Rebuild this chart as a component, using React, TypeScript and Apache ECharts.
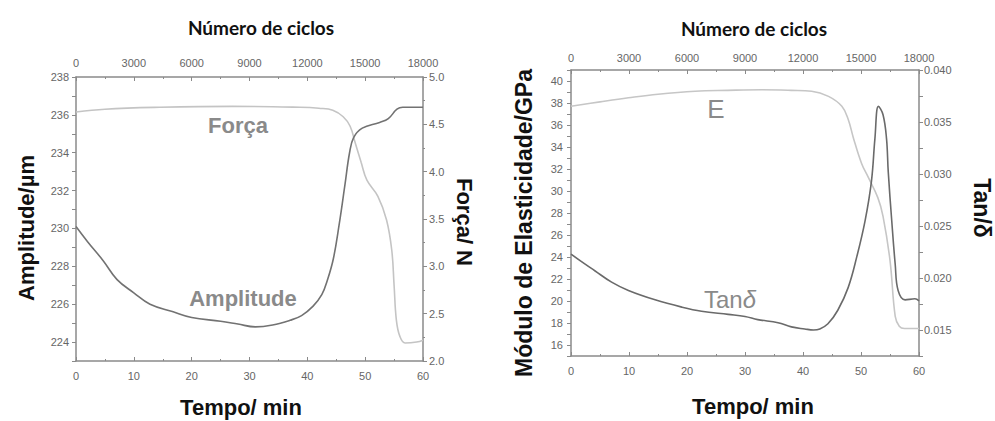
import React, { useEffect, useRef } from "react";
import * as echarts from "echarts";

// Tempo (min) and Número de ciclos axes
const timeMin = 0;
const timeMax = 60;
const cyclesMax = 18000;

// Left panel: Amplitude (µm) and Força (N) vs Tempo (min)
const ampT = [0, 2, 4.7, 7.1, 10, 12.8, 16.8, 20, 25, 28, 31, 34, 37, 39, 41, 42.5, 43.5, 44.5, 45.5, 46.5, 47.3, 48, 49.5, 52.5, 54, 55.5, 56.5, 60];
const ampV = [230.1, 229.3, 228.3, 227.3, 226.6, 226.0, 225.6, 225.3, 225.1, 224.95, 224.8, 224.9, 225.15, 225.4, 225.9, 226.5, 227.3, 228.4, 230.2, 232.3, 234.0, 234.8, 235.3, 235.6, 235.8, 236.3, 236.4, 236.4];

const forT = [0, 5, 14.5, 27, 38.7, 42, 44.4, 46.2, 47.4, 48.3, 49.3, 50.3, 52.2, 53.7, 54.6, 55.0, 55.4, 56, 56.9, 58.9, 60];
const forV = [4.63, 4.66, 4.68, 4.69, 4.68, 4.67, 4.65, 4.58, 4.48, 4.3, 4.1, 3.91, 3.74, 3.49, 3.17, 2.8, 2.43, 2.26, 2.19, 2.2, 2.22];

// Right panel: Módulo de Elasticidade (GPa) and Tanδ vs Tempo (min)
const eT = [0, 5, 9.9, 15, 21.4, 27, 32.9, 38, 41.5, 44.4, 46.7, 47.8, 48.7, 50.1, 51.2, 52.9, 53.8, 55.0, 55.9, 56.6, 57.5, 60];
const eV = [37.7, 38.1, 38.47, 38.8, 39.07, 39.15, 39.2, 39.15, 39.07, 38.6, 37.7, 36.5, 34.8, 32.5, 31.3, 29.4, 27.7, 23.7, 18.6, 17.7, 17.5, 17.5];

const tanT = [0, 2, 4.1, 7, 9.9, 14.5, 19.1, 22.5, 27.1, 30, 32.2, 35.7, 38, 40.3, 41.8, 42.9, 44.3, 46, 47.8, 49.3, 50.7, 51.8, 52.4, 53, 53.8, 54.4, 54.7, 55.3, 55.9, 56.4, 57.6, 59.3, 60];
const tanV = [0.0223, 0.0215, 0.0207, 0.0196, 0.0188, 0.0179, 0.0172, 0.0168, 0.0165, 0.0163, 0.016, 0.0157, 0.0153, 0.0151, 0.015, 0.0151, 0.0156, 0.0169, 0.0191, 0.0221, 0.0255, 0.0293, 0.0334, 0.0365, 0.0357, 0.0334, 0.0302, 0.0255, 0.0213, 0.0188, 0.0179, 0.018, 0.0178];

const zip = (xs: number[], ys: number[]) => xs.map((x, i) => [x, ys[i]]);

const TICK_FONT = "Liberation Sans, Arial, sans-serif";
const BOLD_FONT = "Liberation Sans, Arial, sans-serif";
const AXIS_GRAY = "#8a8a8a";
const LABEL_GRAY = "#666";

function axisBase(extra: any) {
  return {
    type: "value",
    axisLine: { show: true, onZero: false, lineStyle: { color: AXIS_GRAY, width: 1.5 } },
    splitLine: { show: false },
    axisLabel: { color: LABEL_GRAY, fontSize: 11, fontFamily: TICK_FONT },
    ...extra,
  };
}

function xAxes(grid: number, topMargin: number) {
  return [
    axisBase({
      gridIndex: grid,
      position: "bottom",
      min: timeMin,
      max: timeMax,
      interval: 10,
      axisTick: { inside: true, length: 4, lineStyle: { color: AXIS_GRAY } },
      minorTick: { show: true, splitNumber: 2, length: 2, lineStyle: { color: AXIS_GRAY } },
      axisLabel: { color: LABEL_GRAY, fontSize: 11, fontFamily: TICK_FONT, margin: 9 },
    }),
    axisBase({
      gridIndex: grid,
      position: "top",
      min: 0,
      max: cyclesMax,
      interval: 3000,
      axisTick: { inside: true, length: 4, lineStyle: { color: AXIS_GRAY } },
      minorTick: { show: true, splitNumber: 2, length: 2, lineStyle: { color: AXIS_GRAY } },
      axisLabel: {
        color: LABEL_GRAY,
        fontSize: 11,
        fontFamily: TICK_FONT,
        margin: topMargin,
        formatter: (v: number) => String(Math.round(v)),
      },
    }),
  ];
}

const evenLabel = (v: number) => (Math.round(v) % 2 === 0 ? String(Math.round(v)) : "");
const tanLabel = (v: number) => (Math.round(v * 10000) % 50 === 0 ? v.toFixed(3) : "");

function text(x: number, y: number, t: string, size: number, opts: any = {}) {
  const { rotation, fill, weight, family, rich } = opts;
  return {
    type: "text",
    x,
    y,
    rotation: rotation || 0,
    silent: true,
    style: {
      text: t,
      fill: fill || "#111",
      fontSize: size,
      fontWeight: weight || "bold",
      fontFamily: family || BOLD_FONT,
      align: "center",
      verticalAlign: "middle",
      rich,
    },
  };
}

const lineSeries = (name: string, x: number, y: number, data: number[][], color: string) => ({
  name,
  type: "line",
  xAxisIndex: x,
  yAxisIndex: y,
  data,
  showSymbol: false,
  smooth: 0.4,
  lineStyle: { color, width: 1.6 },
});

export default function App() {
  const ref = useRef<HTMLDivElement>(null);

  useEffect(() => {
    if (!ref.current) return;
    const chart = echarts.init(ref.current, undefined, { renderer: "svg" });
    const tickStyle = { lineStyle: { color: AXIS_GRAY } };

    chart.setOption({
      animation: false,
      backgroundColor: "#fff",
      grid: [
        { left: 76, top: 77, width: 347, height: 284, outerBoundsMode: "none" },
        { left: 571, top: 70, width: 348, height: 286, outerBoundsMode: "none" },
      ],
      xAxis: [...xAxes(0, 9), ...xAxes(1, 7)],
      yAxis: [
        axisBase({
          gridIndex: 0,
          position: "left",
          min: 223,
          max: 238,
          interval: 1,
          axisTick: { length: 4, ...tickStyle },
          axisLabel: { color: LABEL_GRAY, fontSize: 11, fontFamily: TICK_FONT, margin: 7, formatter: evenLabel },
        }),
        axisBase({
          gridIndex: 0,
          position: "right",
          min: 2,
          max: 5,
          interval: 0.5,
          axisTick: { length: 4, ...tickStyle },
          minorTick: { show: true, splitNumber: 2, length: 2, ...tickStyle },
          axisLabel: {
            color: LABEL_GRAY,
            fontSize: 11,
            fontFamily: TICK_FONT,
            margin: 6,
            formatter: (v: number) => v.toFixed(1),
          },
        }),
        axisBase({
          gridIndex: 1,
          position: "left",
          min: 15,
          max: 41,
          interval: 1,
          axisTick: { length: 4, ...tickStyle },
          axisLabel: { color: LABEL_GRAY, fontSize: 11, fontFamily: TICK_FONT, margin: 8, formatter: evenLabel },
        }),
        axisBase({
          gridIndex: 1,
          position: "right",
          min: 0.0125,
          max: 0.04,
          interval: 0.0025,
          axisTick: { length: 4, ...tickStyle },
          axisLabel: { color: LABEL_GRAY, fontSize: 11, fontFamily: TICK_FONT, margin: 5, formatter: tanLabel },
        }),
      ],
      series: [
        lineSeries("Força", 0, 1, zip(forT, forV), "#c4c4c4"),
        lineSeries("Amplitude", 0, 0, zip(ampT, ampV), "#727272"),
        lineSeries("E", 2, 2, zip(eT, eV), "#c6c6c6"),
        lineSeries("Tanδ", 2, 3, zip(tanT, tanV), "#6a6a6a"),
      ],
      graphic: [
        // panel titles
        text(261, 27, "Número de ciclos", 19, { family: "Lato, sans-serif" }),
        text(754, 28, "Número de ciclos", 19, { family: "Lato, sans-serif" }),
        text(241, 407, "Tempo/ min", 22),
        text(753, 406, "Tempo/ min", 22),
        // axis names
        text(26, 228, "Amplitude/µm", 22, { rotation: Math.PI / 2 }),
        text(464, 222, "Força/ N", 22, { rotation: -Math.PI / 2 }),
        text(524, 223, "Módulo de Elasticidade/GPa", 23, { rotation: Math.PI / 2 }),
        text(982, 208, "Tan/δ", 23, { rotation: -Math.PI / 2 }),
        // series labels
        text(238, 125, "Força", 22, { fill: "#8a8a8a" }),
        text(243, 298, "Amplitude", 22, { fill: "#8a8a8a" }),
        text(716, 109, "E", 26, { fill: "#8a8a8a", weight: "normal" }),
        text(730, 299, "Tan{i|δ}", 24, {
          fill: "#8a8a8a",
          weight: "normal",
          rich: { i: { fontStyle: "italic", fontSize: 24, fill: "#8a8a8a", fontFamily: BOLD_FONT } },
        }),
      ],
    });

    return () => chart.dispose();
  }, []);

  return (
    <div
      ref={ref}
      style={{ position: "absolute", left: 0, top: 0, width: 995, height: 421, background: "#fff" }}
    />
  );
}
